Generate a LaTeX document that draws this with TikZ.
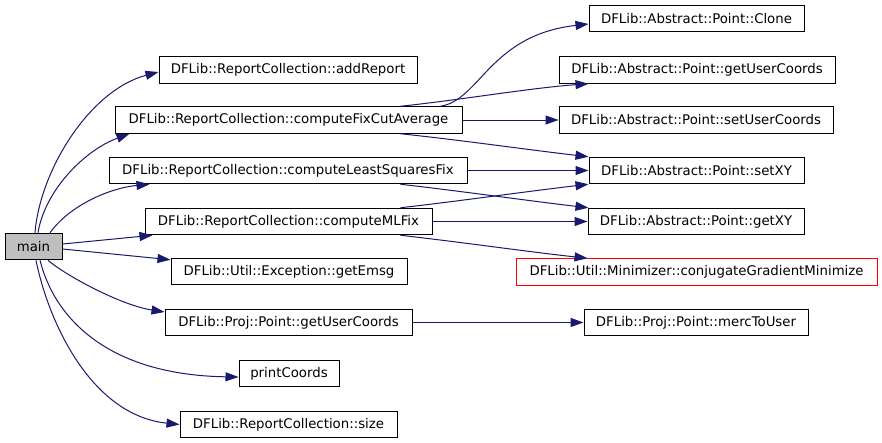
\documentclass[tikz,border=0pt]{standalone}
\usepackage{fontspec}
\setmainfont{DejaVu Sans}
\usetikzlibrary{arrows.meta}
\definecolor{edgeblue}{HTML}{191970}
\definecolor{mainfill}{HTML}{BFBFBF}
\tikzset{
  fn/.style={draw=black, line width=1pt, inner sep=0pt, minimum height=26.5pt,
    font=\fontsize{13.3}{15}\selectfont, text=black, fill=white},
  callarrow/.style={draw=edgeblue, line width=1pt,
    -{Triangle[length=13pt,width=9pt]}, edgeblue},
}
\begin{document}
\begin{tikzpicture}[x=1pt,y=-1pt]
\useasboundingbox[fill=white] (0,0) rectangle (882,442);
% left column
\node[fn, fill=mainfill, minimum width=57pt] (main) at (33.5,246.5) {main};
\node[fn, minimum width=258pt] (addrep) at (288,70) {DFLib::ReportCollection::addReport};
\node[fn, minimum width=347pt] (fixcut) at (288.5,120) {DFLib::ReportCollection::computeFixCutAverage};
\node[fn, minimum width=358pt] (least) at (288,170.5) {DFLib::ReportCollection::computeLeastSquaresFix};
\node[fn, minimum width=287pt] (mlfix) at (288.5,221.5) {DFLib::ReportCollection::computeMLFix};
\node[fn, minimum width=236pt] (emsg) at (289,271.5) {DFLib::Util::Exception::getEmsg};
\node[fn, minimum width=247pt] (projuc) at (288.5,322.5) {DFLib::Proj::Point::getUserCoords};
\node[fn, minimum width=100pt] (print) at (289,373.5) {printCoords};
\node[fn, minimum width=217pt] (size) at (288.5,424.5) {DFLib::ReportCollection::size};
% right column
\node[fn, minimum width=215pt] (clone) at (696.5,18.5) {DFLib::Abstract::Point::Clone};
\node[fn, minimum width=276pt] (absuc) at (697,70) {DFLib::Abstract::Point::getUserCoords};
\node[fn, minimum width=274pt] (setuc) at (696,120) {DFLib::Abstract::Point::setUserCoords};
\node[fn, minimum width=215pt] (setxy) at (696.5,170.5) {DFLib::Abstract::Point::setXY};
\node[fn, minimum width=216pt] (getxy) at (696,221.5) {DFLib::Abstract::Point::getXY};
\node[fn, draw=red, minimum width=361pt] (conj) at (696.5,272) {DFLib::Util::Minimizer::conjugateGradientMinimize};
\node[fn, minimum width=224pt] (merc) at (696,322.5) {DFLib::Proj::Point::mercToUser};
% edges from main
\draw[callarrow] ([xshift=1.5pt]main.north) .. controls (40,170) and (90,90) .. ([yshift=-2pt]addrep.west);
\draw[callarrow] ([xshift=4.5pt]main.north) .. controls (45,190) and (85,150) .. ([xshift=15pt]fixcut.south west);
\draw[callarrow] ([xshift=16.5pt]main.north) .. controls (70,205) and (110,188) .. ([xshift=41pt]least.south west);
\draw[callarrow] ([yshift=2.5pt]main.east) -- ([xshift=8pt]mlfix.south west);
\draw[callarrow] ([yshift=-2.5pt]main.east) -- ([yshift=-2pt]emsg.north west);
\draw[callarrow] ([xshift=14.5pt]main.south) .. controls (65,275) and (120,305) .. ([yshift=10.5pt]projuc.west);
\draw[callarrow] ([xshift=6.5pt]main.south) .. controls (55,320) and (110,375) .. ([yshift=-3.5pt]print.west);
\draw[callarrow] ([xshift=2.5pt]main.south) .. controls (48,320) and (90,415) .. (size.west);
% edges to the right
\draw[callarrow] ([xshift=-22pt]fixcut.north east) .. controls (480,100) and (490,35) .. ([yshift=-5.5pt]clone.west);
\draw[callarrow] ([xshift=-62pt]fixcut.north east) .. controls (460,100) and (530,88) .. ([xshift=30pt]absuc.south west);
\draw[callarrow] (fixcut.east) -- (setuc.west);
\draw[callarrow] ([xshift=-62pt]fixcut.south east) .. controls (460,140) and (530,150) .. (setxy.north west);
\draw[callarrow] (least.east) -- (setxy.west);
\draw[callarrow] ([xshift=-67pt]least.south east) .. controls (460,191) and (530,201) .. ([xshift=1pt]getxy.north west);
\draw[callarrow] ([xshift=-32pt]mlfix.north east) .. controls (460,201) and (530,191) .. (setxy.south west);
\draw[callarrow] (mlfix.east) -- (getxy.west);
\draw[callarrow] ([xshift=-32pt]mlfix.south east) .. controls (460,242) and (530,252) .. ([xshift=72pt]conj.north west);
\draw[callarrow] (projuc.east) -- (merc.west);
\end{tikzpicture}
\end{document}
